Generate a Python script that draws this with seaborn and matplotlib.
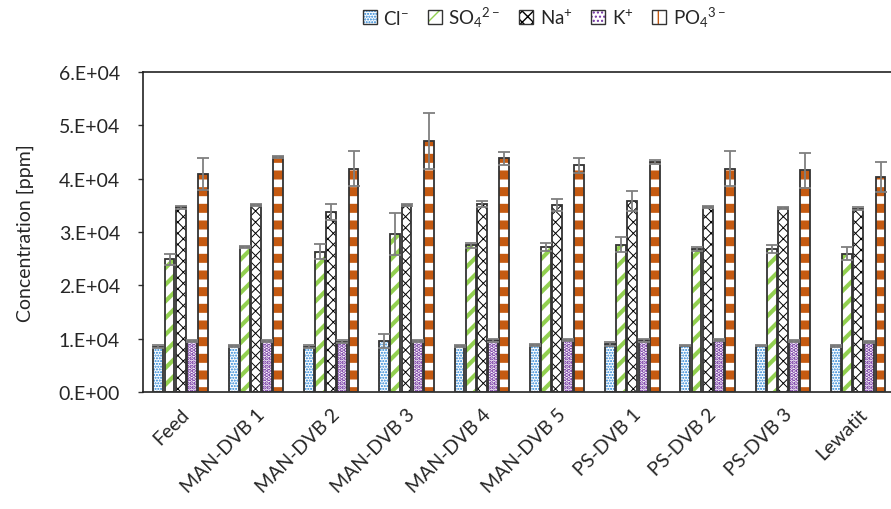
import matplotlib
matplotlib.use("Agg")
import matplotlib.pyplot as plt
from matplotlib.patches import Rectangle, Patch
from matplotlib.legend_handler import HandlerTuple
import seaborn as sns
import pandas as pd
import numpy as np

samples = ["Feed", "MAN-DVB 1", "MAN-DVB 2", "MAN-DVB 3", "MAN-DVB 4", "MAN-DVB 5",
           "PS-DVB 1", "PS-DVB 2", "PS-DVB 3", "Lewatit"]
ions = ["Cl$^{-}$", "SO$_{4}$$^{2-}$", "Na$^{+}$", "K$^{+}$", "PO$_{4}$$^{3-}$"]

cl = [8500, 8700, 8500, 9600, 8700, 8800, 9000, 8700, 8700, 8600]
so4 = [24900, 27200, 26300, 29600, 27500, 27200, 27600, 26800, 26800, 25900]
na = [34600, 35000, 33800, 35000, 35300, 35000, 35800, 34700, 34500, 34400]
k = [9500, 9600, 9400, 9600, 9700, 9700, 9700, 9700, 9600, 9400]
po4 = [40900, 44100, 41900, 47100, 43800, 42500, 43100, 41900, 41600, 40300]

cl_err = [300, 200, 300, 1300, 200, 200, 300, 150, 150, 150]
so4_err = [1000, 150, 1400, 4000, 500, 700, 1400, 400, 700, 1200]
na_err = [200, 200, 1500, 200, 600, 1100, 1800, 200, 200, 200]
k_err = [200, 200, 300, 200, 300, 200, 300, 200, 200, 200]
po4_err = [3000, 200, 3200, 5200, 1200, 1400, 400, 3200, 3300, 2800]

values = [cl, so4, na, k, po4]
errors = [cl_err, so4_err, na_err, k_err, po4_err]

hatch_colors = ["#1f7fd4", "#92d050", "#000000", "#7030a0", "#c55a11"]
hatches = ["......", "//", "xxx", "....", "-"]
hatch_lw = [1.0, 3.0, 0.7, 2.2, 6.5]
legend_hatches = ["......", "//", "xxx", "....", "+"]
legend_hatch_lw = [1.0, 3.0, 0.7, 2.2, 5.0]

rows = []
for ion, vals in zip(ions, values):
    for s, v in zip(samples, vals):
        rows.append({"sample": s, "ion": ion, "value": v})
df = pd.DataFrame(rows)

sns.set_style("white")
plt.rcParams['font.family'] = ['Lato', 'Noto Sans', 'DejaVu Sans']
plt.rcParams['mathtext.fontset'] = 'custom'
plt.rcParams['mathtext.rm'] = 'Lato'
plt.rcParams['mathtext.it'] = 'Lato'
plt.rcParams['mathtext.default'] = 'regular'
plt.rcParams['hatch.linewidth'] = 1.0

fig = plt.figure(figsize=(8.91, 5.10), dpi=100)
ax = fig.add_axes([0.1605, 0.2294, 0.845, 0.6275])

sns.barplot(data=df, x="sample", y="value", hue="ion", hue_order=ions,
            order=samples, ax=ax, width=0.74, gap=0.12, legend=False,
            palette=["white"] * 5, errorbar=None)

bar_conts = [c for c in ax.containers]
for i, cont in enumerate(bar_conts):
    xs, ys = [], []
    for p in cont.patches:
        if p is None:
            continue
        p.set_facecolor("white")
        p.set_edgecolor(hatch_colors[i])
        p.set_hatch(hatches[i])
        p.set_linewidth(0)
        if hasattr(p, "set_hatch_linewidth"):
            p.set_hatch_linewidth(hatch_lw[i])
        ax.add_patch(Rectangle(p.get_xy(), p.get_width(), p.get_height(),
                               fill=False, edgecolor="#333333", linewidth=1.3, zorder=3))
        xs.append(p.get_x() + p.get_width() / 2)
        ys.append(p.get_height())
    ax.errorbar(xs, ys, yerr=errors[i], fmt="none", ecolor="#7f7f7f",
                elinewidth=1.3, capsize=4.5, capthick=1.3, zorder=4)

ax.set_xlim(-0.5, 9.5)
ax.set_ylim(0, 60000)
ticks = np.arange(0, 60001, 10000)
ax.set_yticks(ticks)
ax.set_yticklabels([f"{int(t/10000)}.E+0{4 if t else 0}" for t in ticks])
ax.set_xlabel("")
ax.set_ylabel("Concentration [ppm]", fontsize=14, labelpad=18)
ax.tick_params(axis="y", which="both", left=True, length=3.6, width=1, color="#333333",
               labelsize=14, pad=13)
ax.tick_params(axis="x", bottom=False, labelsize=14, pad=6)
plt.setp(ax.get_xticklabels(), rotation=45, ha="right", rotation_mode="anchor")
for sp in ax.spines.values():
    sp.set_color("#222222")
    sp.set_linewidth(1.2)

handles = []
for i in range(5):
    hp = Patch(facecolor="white", edgecolor=hatch_colors[i], hatch=legend_hatches[i], linewidth=0)
    if hasattr(hp, "set_hatch_linewidth"):
        hp.set_hatch_linewidth(legend_hatch_lw[i])
    outline = Patch(facecolor="none", edgecolor="#333333", linewidth=1.0)
    handles.append((hp, outline))
fig.legend(handles, ions, loc="center", bbox_to_anchor=(0.611, 0.965), ncol=5,
           frameon=False, fontsize=13.5, handlelength=0.75, handleheight=0.75,
           handletextpad=0.35, columnspacing=1.0,
           handler_map={tuple: HandlerTuple(ndivide=1, pad=0)})

fig.savefig("out.png", dpi=100)
